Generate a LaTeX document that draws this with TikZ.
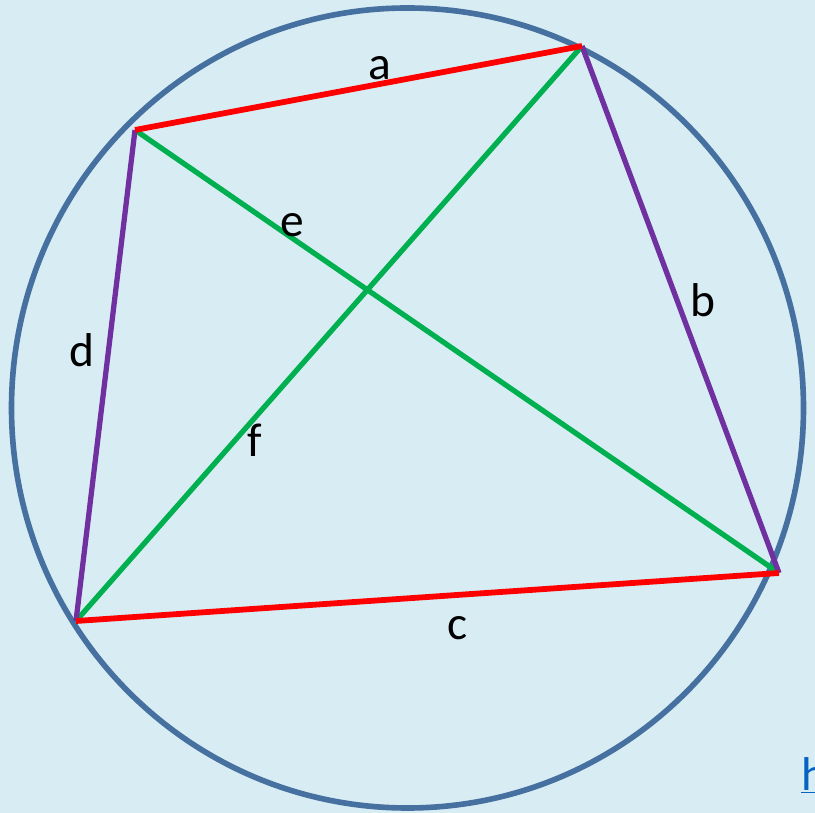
\documentclass[tikz,border=0pt]{standalone}
\usepackage{fontspec}
\setmainfont{Carlito}
\usetikzlibrary{positioning}
\definecolor{bgblue}{RGB}{216,237,243}
\definecolor{rim}{RGB}{70,112,160}
\definecolor{sidered}{RGB}{255,0,0}
\definecolor{sidepurple}{RGB}{112,48,160}
\definecolor{diaggreen}{RGB}{0,176,80}
\definecolor{linkblue}{RGB}{5,99,193}
\tikzset{
  rimline/.style={draw=rim, line width=3.2pt},
  sidea/.style={draw=sidered, line width=3.3pt},
  sideb/.style={draw=sidepurple, line width=3pt},
  diag/.style={draw=diaggreen, line width=3pt},
  lbl/.style={font=\fontsize{27}{30}\selectfont, inner sep=0pt},
  lnk/.style={font=\fontsize{27}{30}\selectfont, text=linkblue, inner sep=0pt}
}
\begin{document}
\begin{tikzpicture}[x=0.02cm, y=-0.02cm]

  \clip (0,0) rectangle (815,813);
  \fill[bgblue] (0,0) rectangle (815,813);

  % circumscribed circle
  \coordinate (o) at (407.5,408);
  \draw[rimline] (o) ellipse [x radius=396, y radius=400];

  % vertices of the quadrilateral
  \coordinate (A) at (135,130);
  \coordinate (B) at (582,46);
  \coordinate (C) at (779,573);
  \coordinate (D) at (76,621);

  % diagonals
  \draw[diag] (A) -- (C);
  \draw[diag] (B) -- (D);

  % sides
  \draw[sideb] (B) -- (C);
  \draw[sideb] (D) -- (A);
  \draw[sidea] (A) -- (B);
  \draw[sidea] (C) -- (D);

  % labels
  \node[lbl] (la) at (380,68)  {a};
  \node[lbl] (lb) at (703,300) {b};
  \node[lbl] (lc) at (458,628) {c};
  \node[lbl] (ld) at (82,350)  {d};
  \node[lbl] (le) at (292,225) {e};
  \node[lbl] (lf) at (255,440) {f};

  \node[lnk, anchor=base west] (link) at (801,790) {\underline{h}};

\end{tikzpicture}
\end{document}
